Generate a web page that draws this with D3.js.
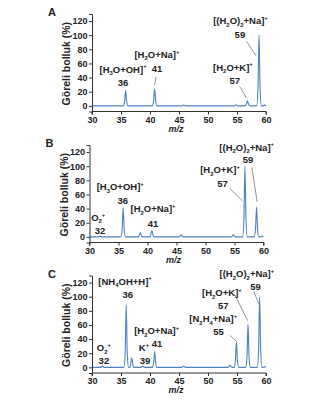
<!DOCTYPE html>
<html>
<head>
<meta charset="utf-8">
<script src="https://cdn.jsdelivr.net/npm/d3@7"></script>
<style>
  html, body { margin: 0; padding: 0; background: #fff; }
  svg { display: block; }
  text { font-family: "Liberation Sans", Arial, sans-serif; fill: #222; }
</style>
</head>
<body>
<svg id="chart" width="324" height="400"></svg>
<script>
// ---- data: mass spectra, [m/z, relative abundance %] ----
const spectrumA = [
  [30, 0], [35.4, 0], [35.62, 6], [35.8, 22], [35.98, 6], [36.2, 0],
  [40.4, 0], [40.62, 7], [40.8, 24], [40.98, 7], [41.2, 0],
  [45.5, 0], [45.8, 1], [46.1, 0],
  [54.5, 0], [54.8, 1.5], [55.1, 0],
  [56.4, 0], [56.62, 2.5], [56.8, 7], [56.98, 2.5], [57.2, 0],
  [58.4, 0], [58.62, 25], [58.8, 100], [58.98, 25], [59.2, 0],
  [59.5, 0], [59.75, 1], [60, 0]
];
const spectrumB = [
  [30, 0], [31.5, 0], [31.8, 0.8], [32.1, 0],
  [35.4, 0], [35.62, 10], [35.8, 41], [35.98, 10], [36.2, 0],
  [38.45, 0], [38.75, 6], [39.05, 0],
  [40.45, 0], [40.75, 9], [41.05, 0],
  [45.5, 0], [45.8, 3], [46.1, 0],
  [54.5, 0], [54.8, 3], [55.1, 0],
  [56.4, 0], [56.62, 25], [56.8, 100], [56.98, 25], [57.2, 0],
  [58.4, 0], [58.62, 11], [58.8, 42], [58.98, 11], [59.2, 0],
  [59.5, 0], [59.75, 1], [60, 0]
];
const spectrumC = [
  [30, 0], [31.5, 0], [31.8, 2], [32.1, 0],
  [35.5, 0], [35.72, 20], [35.9, 89], [36.08, 20], [36.3, 0],
  [36.55, 0], [36.85, 13], [37.15, 0],
  [38.45, 0], [38.75, 2], [39.05, 0],
  [40.4, 0], [40.62, 6], [40.8, 22], [40.98, 6], [41.2, 0],
  [45.5, 0], [45.8, 2], [46.1, 0],
  [53.5, 0], [53.8, 3], [54.1, 0],
  [54.5, 0], [54.72, 9], [54.9, 36], [55.08, 9], [55.3, 0],
  [56.5, 0], [56.72, 15], [56.9, 61], [57.08, 15], [57.3, 0],
  [58.5, 0], [58.72, 25], [58.9, 100], [59.08, 25], [59.3, 0],
  [59.5, 0], [59.75, 1], [60, 0]
];

// ---- axis ticks ----
const xTicks = [30, 35, 40, 45, 50, 55, 60];
const yTicks = [0, 20, 40, 60, 80, 100, 120];

// ---- peak annotations: [markup, m/z, abundance] (label centre / baseline) ----
const labelsA = [
  ["[H_3O+OH]^+", 35.35, 47], ["36", 35.35, 28.5],
  ["[H_2O+Na]^+", 41.2, 68], ["41", 41.2, 47.5],
  ["[(H_2O)_2+Na]^+", 55.6, 116], ["59", 55.5, 96.5],
  ["[H_2O+K]^+", 54.3, 50], ["57", 54.6, 31]
];
const leadersA = [
  [41.05, 41, 40.78, 29.5],
  [56.65, 91, 58.3, 71],
  [55.5, 27, 56.6, 11.5]
];
const labelsB = [
  ["O_2^+", 31.5, 22.7], ["32", 31.8, 3.8],
  ["[H_3O+OH]^+", 35.3, 66], ["36", 35.75, 46.5],
  ["[H_2O+Na]^+", 40.95, 35], ["41", 40.95, 14.2],
  ["[(H_2O)_2+Na]^+", 57.1, 122], ["59", 57.35, 104],
  ["[H_2O+K]^+", 52.5, 90], ["57", 52.95, 71]
];
const leadersB = [
  [58.0, 98, 58.9, 49.5],
  [54.2, 68.5, 56.35, 51]
];
const labelsC = [
  ["[NH_4OH+H]^+", 35.7, 117], ["36", 36.15, 98.4],
  ["O_2^+", 32.05, 22.7], ["32", 32.05, 4.8],
  ["K^+", 38.95, 22.7], ["39", 39.15, 4.8],
  ["[H_2O+Na]^+", 41.15, 47.4], ["41", 41.2, 28.5],
  ["[N_2H_4+Na]^+", 50.9, 63.8], ["55", 51.8, 46.4],
  ["[H_2O+K]^+", 52.4, 100.7], ["57", 52.65, 82.8],
  ["[(H_2O)_2+Na]^+", 56.7, 127.5], ["59", 58.2, 109]
];
const leadersC = [
  [53.8, 45, 54.9, 37],
  [54.6, 103, 56.85, 66],
  [57.9, 107.5, 58.75, 90]
];

const panelNames = ["A", "B", "C"];
const yTitle = "Göreli bolluk (%)";
const xTitle = "m/z";

// ---- layout ----
const panels = [
  { name: panelNames[0], data: spectrumA, labels: labelsA, leaders: leadersA, left: 92, top: 14 },
  { name: panelNames[1], data: spectrumB, labels: labelsB, leaders: leadersB, left: 89.5, top: 145 },
  { name: panelNames[2], data: spectrumC, labels: labelsC, leaders: leadersC, left: 92, top: 275.5 }
];
const plotW = 174, plotH = 97.5;
const lineColor = "#4f80c4";

const svg = d3.select("#chart");

// Render "_x" as subscript and "^x" as superscript characters
function richText(sel, markup, size) {
  const small = size * 0.62;
  let shift = 0;
  for (let i = 0; i < markup.length; i++) {
    const c = markup[i];
    if ((c === "_" || c === "^") && i + 1 < markup.length) {
      const s = c === "_" ? size * 0.28 : -size * 0.45;
      sel.append("tspan").attr("dy", s - shift).attr("font-size", small).text(markup[i + 1]);
      shift = s;
      i++;
    } else {
      let j = i;
      let chunk = "";
      while (j < markup.length && markup[j] !== "_" && markup[j] !== "^") { chunk += markup[j]; j++; }
      sel.append("tspan").attr("dy", -shift).attr("font-size", size).text(chunk);
      shift = 0;
      i = j - 1;
    }
  }
}

panels.forEach(p => {
  const x = d3.scaleLinear().domain([30, 60]).range([p.left, p.left + plotW]);
  const y = d3.scaleLinear().domain([-8, 130]).range([p.top + plotH, p.top]);
  const g = svg.append("g");

  // spectrum trace
  const line = d3.line().x(d => x(d[0])).y(d => y(d[1])).curve(d3.curveMonotoneX);
  g.append("path").datum(p.data)
    .attr("d", line)
    .attr("fill", "none")
    .attr("stroke", lineColor)
    .attr("stroke-width", 1.1)
    .attr("stroke-linejoin", "round");

  // axes
  const xAxis = d3.axisBottom(x).tickValues(xTicks).tickSize(3).tickPadding(2);
  const gx = g.append("g").attr("transform", `translate(0,${p.top + plotH})`).call(xAxis);
  const yAxis = d3.axisLeft(y).tickValues(yTicks).tickSize(3).tickPadding(1.5);
  const gy = g.append("g").attr("transform", `translate(${p.left},0)`).call(yAxis);
  [gx, gy].forEach(a => {
    a.select(".domain").attr("stroke", "#333").attr("stroke-width", 1);
    a.selectAll(".tick line").attr("stroke", "#333");
    a.selectAll(".tick text")
      .attr("font-family", "Liberation Sans, Arial, sans-serif")
      .attr("font-size", 9)
      .attr("font-weight", "bold")
      .attr("fill", "#333");
  });
  // the x axis line spans the full frame width
  gx.select(".domain").attr("d", `M${p.left},3V0H${p.left + plotW}V3`);

  // axis titles
  g.append("text")
    .attr("x", x(44.5)).attr("y", p.top + plotH + 20)
    .attr("text-anchor", "middle")
    .attr("font-size", 9).attr("font-weight", "bold").attr("font-style", "italic")
    .text(xTitle);
  g.append("text")
    .attr("transform", `translate(${p.left - 22},${p.top + plotH / 2 + 1}) rotate(-90)`)
    .attr("text-anchor", "middle")
    .attr("font-size", 10.5).attr("font-weight", "bold")
    .attr("fill", "#333")
    .text(yTitle);

  // panel letter
  g.append("text")
    .attr("x", p.left - 44).attr("y", p.top + 2)
    .attr("font-size", 11).attr("font-weight", "bold")
    .text(p.name);

  // leader lines
  g.selectAll(".leader").data(p.leaders).enter().append("line")
    .attr("x1", d => x(d[0])).attr("y1", d => y(d[1]))
    .attr("x2", d => x(d[2])).attr("y2", d => y(d[3]))
    .attr("stroke", "#777").attr("stroke-width", 0.8);

  // peak labels
  p.labels.forEach(l => {
    const t = g.append("text")
      .attr("x", x(l[1])).attr("y", y(l[2]))
      .attr("text-anchor", "middle")
      .attr("font-weight", "bold")
      .attr("font-size", 9.5);
    richText(t, l[0], 9.5);
  });
});
</script>
</body>
</html>
